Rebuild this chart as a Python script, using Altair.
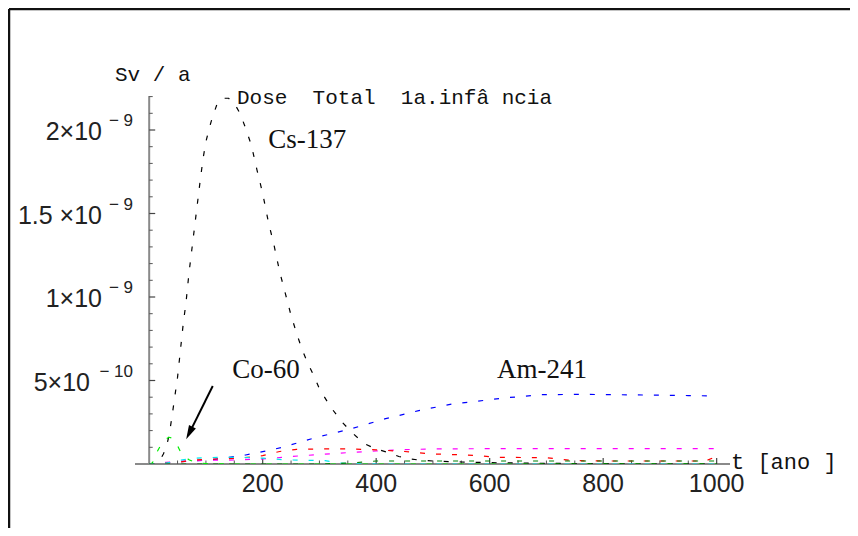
import altair as alt
import pandas as pd

# ---------------- data (values in units of 1e-9 Sv/a) ----------------
cs_t = [0, 10, 15, 20, 25, 30, 35, 40, 45, 50, 55, 60, 65, 70, 75, 80, 85, 90, 95, 100,
        105, 110, 115, 120, 130, 140, 150, 160, 170, 180, 190, 200, 210, 220, 230, 240,
        250, 260, 270, 280, 290, 300, 320, 340, 360, 380, 400, 420, 440, 460, 480, 500,
        550, 600, 700, 800, 900, 1000]
cs_v = [0, 0, 0.01, 0.03, 0.06, 0.10, 0.17, 0.28, 0.40, 0.52, 0.68, 0.84, 0.97, 1.14,
        1.28, 1.42, 1.56, 1.70, 1.83, 1.93, 2.00, 2.06, 2.11, 2.16, 2.19, 2.19, 2.16,
        2.10, 2.01, 1.91, 1.76, 1.62, 1.45, 1.31, 1.15, 1.02, 0.89, 0.78, 0.68, 0.60,
        0.53, 0.45, 0.34, 0.25, 0.18, 0.12, 0.09, 0.07, 0.045, 0.03, 0.022, 0.018,
        0.012, 0.008, 0.004, 0.002, 0.001, 0.001]

co_t = [0, 5, 10, 15, 20, 25, 30, 35, 40, 45, 50, 55, 60, 65, 70, 80, 90, 100, 150, 1000]
co_v = [0, 0.005, 0.03, 0.08, 0.11, 0.13, 0.15, 0.16, 0.155, 0.14, 0.11, 0.075, 0.055,
        0.04, 0.025, 0.012, 0.006, 0.003, 0, 0]

am_t = [0, 20, 50, 80, 110, 140, 170, 200, 235, 265, 295, 320, 355, 385, 415, 440, 475,
        505, 535, 565, 600, 630, 660, 690, 750, 800, 850, 900, 950, 1000]
am_v = [0, 0.005, 0.012, 0.02, 0.025, 0.04, 0.054, 0.074, 0.10, 0.13, 0.16, 0.18, 0.21,
        0.24, 0.27, 0.29, 0.32, 0.34, 0.36, 0.37, 0.385, 0.397, 0.405, 0.415, 0.417,
        0.416, 0.414, 0.412, 0.41, 0.407]

mg_t = [0, 30, 60, 100, 150, 200, 250, 300, 350, 400, 450, 500, 600, 700, 800, 900, 1000]
mg_v = [0, 0.01, 0.017, 0.022, 0.024, 0.03, 0.045, 0.057, 0.068, 0.078, 0.086, 0.09,
        0.092, 0.092, 0.092, 0.092, 0.092]

rd_t = [0, 50, 80, 120, 160, 200, 230, 260, 300, 350, 400, 450, 500, 550, 580, 610, 700,
        720, 750, 800, 900, 980, 1000]
rd_v = [0, 0.01, 0.024, 0.03, 0.035, 0.05, 0.075, 0.088, 0.09, 0.09, 0.085, 0.075, 0.06,
        0.055, 0.05, 0.04, 0.038, 0.03, 0.02, 0.018, 0.018, 0.018, 0.045]

cy_t = [0, 30, 50, 80, 120, 160, 200, 240, 280, 310, 330, 350, 400, 1000]
cy_v = [0, 0.005, 0.02, 0.035, 0.04, 0.04, 0.035, 0.025, 0.022, 0.02, 0.008, 0.002, 0, 0]

dg_t = [0, 300, 350, 380, 400, 500, 600, 700, 800, 900, 1000]
dg_v = [0, 0, 0.005, 0.012, 0.018, 0.018, 0.018, 0.018, 0.018, 0.018, 0.018]

series_names = ["Cs-137", "Co-60", "Am-241", "magenta", "red", "cyan", "darkgreen"]
series_colors = ["#000000", "#00ee00", "#0000ff", "#ff00ff", "#ff0000", "#00e5ee", "#008000"]

xtick_major = [200, 400, 600, 800, 1000]
xtick_labels = ["200", "400", "600", "800", "1000"]
ytick_major = [0.5, 1.0, 1.5, 2.0]
ytick_mant = ["5", "1", "1.5\u00a0", "2"]
ytick_exp = ["\u2212 10", "\u2212 9", "\u2212 9", "\u2212 9"]

NB = "\u00a0"
title_unit = "Sv" + NB + "/" + NB + "a"
title_main = "Dose" + NB * 2 + "Total" + NB * 2 + "1a.inf\u00e2" + NB + "ncia"
xunit_text = "t" + NB + "[ano" + NB + "]"

# ---------------- build frames ----------------
rows = []
for name, ts, vs in zip(series_names,
                        [cs_t, co_t, am_t, mg_t, rd_t, cy_t, dg_t],
                        [cs_v, co_v, am_v, mg_v, rd_v, cy_v, dg_v]):
    for t, v in zip(ts, vs):
        rows.append({"series": name, "t": t, "v": v})
df = pd.DataFrame(rows)

W, H = 595, 368
xdom = [-25, 1023.5]
ydom = [0, 2.2036]
xs = alt.Scale(domain=xdom, nice=False, zero=False)
ys = alt.Scale(domain=ydom, nice=False, zero=False)
one = pd.DataFrame({"a": [0]})

lines = alt.Chart(df).mark_line(strokeDash=[5, 11], strokeWidth=1.2, clip=True).encode(
    x=alt.X("t:Q", scale=xs, axis=None),
    y=alt.Y("v:Q", scale=ys, axis=None),
    color=alt.Color("series:N", scale=alt.Scale(domain=series_names, range=series_colors),
                    legend=None),
    order=alt.Order("t:Q"),
)

# axes
ax_df = pd.DataFrame({"t": [xdom[0]], "t2": [xdom[1]], "v": [0.0], "v2": [ydom[1]], "z": [0.0]})
xaxis = alt.Chart(ax_df).mark_rule(color="#8a8a8a", strokeWidth=2).encode(
    x=alt.X("t:Q", scale=xs, axis=None), x2="t2:Q", y=alt.Y("v:Q", scale=ys, axis=None))
yaxis = alt.Chart(ax_df).mark_rule(color="#8a8a8a", strokeWidth=2).encode(
    x=alt.X("z:Q", scale=xs, axis=None), y=alt.Y("v:Q", scale=ys, axis=None), y2="v2:Q")

# ticks
xt = pd.DataFrame({"t": [50 * i for i in range(1, 21)]})
xt["major"] = xt["t"] % 200 == 0
xticks_major = alt.Chart(xt[xt["major"]]).mark_rule(color="#444", strokeWidth=1.2).encode(
    x=alt.X("t:Q", scale=xs, axis=None), y=alt.value(H), y2=alt.value(H - 6))
xticks_minor = alt.Chart(xt[~xt["major"]]).mark_rule(color="#555", strokeWidth=1).encode(
    x=alt.X("t:Q", scale=xs, axis=None), y=alt.value(H), y2=alt.value(H - 3.5))

yt = pd.DataFrame({"v": [round(0.1 * i, 1) for i in range(1, 23)]})
yt["major"] = yt["v"].isin(ytick_major)
yt["x0"] = 0.0
yticks_major = alt.Chart(yt[yt["major"]]).mark_rule(color="#444", strokeWidth=1.2).encode(
    y=alt.Y("v:Q", scale=ys, axis=None), x=alt.X("x0:Q", scale=xs, axis=None),
    x2=alt.datum(10.6))
yticks_minor = alt.Chart(yt[~yt["major"]]).mark_rule(color="#555", strokeWidth=1).encode(
    y=alt.Y("v:Q", scale=ys, axis=None), x=alt.X("x0:Q", scale=xs, axis=None),
    x2=alt.datum(6.2))

# tick labels
xl = pd.DataFrame({"t": xtick_major, "lab": xtick_labels})
xlabels = alt.Chart(xl).mark_text(font="Liberation Sans", fontSize=25, color="#222",
                                  baseline="middle", align="center").encode(
    x=alt.X("t:Q", scale=xs, axis=None), y=alt.value(H + 20), text="lab:N")

yl = pd.DataFrame({"v": ytick_major, "mant": ytick_mant, "exp": ytick_exp})
yl["base"] = yl["mant"] + "\u00d710"
yl9 = yl[yl["exp"] == "\u2212 9"]
yl10 = yl[yl["exp"] == "\u2212 10"]
ytxt = dict(font="Liberation Sans", color="#222", baseline="middle", align="right")
ybase9 = alt.Chart(yl9).mark_text(fontSize=25, dy=2, **ytxt).encode(
    y=alt.Y("v:Q", scale=ys, axis=None), x=alt.value(-33), text="base:N")
ybase10 = alt.Chart(yl10).mark_text(fontSize=25, dy=2, **ytxt).encode(
    y=alt.Y("v:Q", scale=ys, axis=None), x=alt.value(-45), text="base:N")
yexp = alt.Chart(yl).mark_text(fontSize=17, dy=-9, **ytxt).encode(
    y=alt.Y("v:Q", scale=ys, axis=None), x=alt.value(-2), text="exp:N")

# titles
mono = dict(font="Liberation Mono", fontSize=21, color="#111", align="left", baseline="middle")
t_unit = alt.Chart(one).mark_text(**mono).encode(x=alt.value(-20), y=alt.value(-21),
                                                 text=alt.value(title_unit))
t_title = alt.Chart(one).mark_text(**mono).encode(x=alt.value(102), y=alt.value(2),
                                                  text=alt.value(title_main))
xunit = alt.Chart(one).mark_text(font="Liberation Mono", fontSize=22, color="#111",
                                 align="left", baseline="middle").encode(
    x=alt.value(596), y=alt.value(H - 2), text=alt.value(xunit_text))

# series labels
lab_df = pd.DataFrame({"t": [210, 206, 613], "v": [1.94, 0.563, 0.563],
                       "lab": ["Cs-137", "Co-60", "Am-241"],
                       "al": ["left", "center", "left"]})
serif = dict(font="Liberation Serif", fontSize=27, color="#111", baseline="middle")
lab_left = alt.Chart(lab_df[lab_df["al"] == "left"]).mark_text(align="left", **serif).encode(
    x=alt.X("t:Q", scale=xs, axis=None), y=alt.Y("v:Q", scale=ys, axis=None), text="lab:N")
lab_center = alt.Chart(lab_df[lab_df["al"] == "center"]).mark_text(align="center", **serif).encode(
    x=alt.X("t:Q", scale=xs, axis=None), y=alt.Y("v:Q", scale=ys, axis=None), text="lab:N")

# arrow
arr = pd.DataFrame({"t": [112], "v": [0.467], "t2": [70.7], "v2": [0.185]})
arrow_line = alt.Chart(arr).mark_rule(color="#000", strokeWidth=2).encode(
    x=alt.X("t:Q", scale=xs, axis=None), y=alt.Y("v:Q", scale=ys, axis=None),
    x2="t2:Q", y2="v2:Q")
arrow_head = alt.Chart(arr).mark_point(shape="M0,-1L0.55,1L-0.55,1Z", filled=True, size=196,
                                       angle=206.6, color="#000", opacity=1).encode(
    x=alt.X("t2:Q", scale=xs, axis=None), y=alt.Y("v2:Q", scale=ys, axis=None))

# outer frame
frame_left = alt.Chart(one).mark_rule(color="#111", strokeWidth=2.5).encode(
    x=alt.value(-126), y=alt.value(-87), y2=alt.value(432))
frame_top = alt.Chart(one).mark_rule(color="#111", strokeWidth=2.5).encode(
    x=alt.value(-126), x2=alt.value(715), y=alt.value(-87))

chart = alt.layer(
    frame_left, frame_top,
    xaxis, yaxis, xticks_major, xticks_minor, yticks_major, yticks_minor,
    lines, arrow_line, arrow_head,
    xlabels, ybase9, ybase10, yexp,
    t_unit, t_title, xunit, lab_left, lab_center,
).properties(
    width=W, height=H,
    autosize=alt.AutoSizeParams(type="none"),
    padding={"left": 127, "top": 88, "right": 120, "bottom": 64},
    background="white",
).configure_view(stroke=None)

chart.save("out.html", embed_options={"renderer": "svg", "actions": False})
